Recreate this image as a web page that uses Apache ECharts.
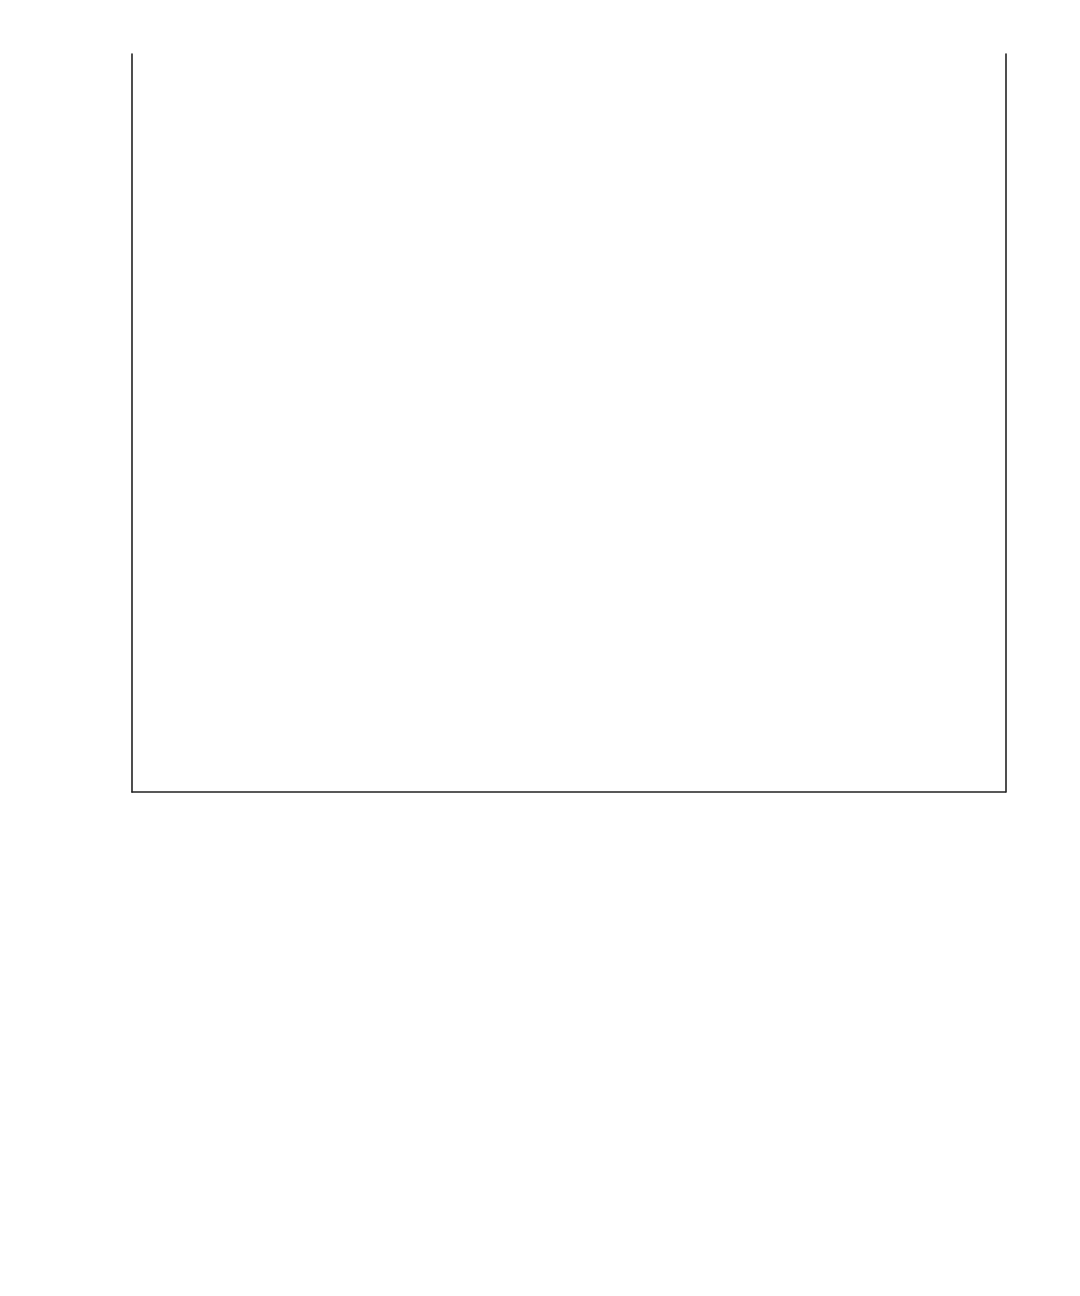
<!DOCTYPE html>
<html>
<head>
<meta charset="utf-8">
<title>Chart</title>
<script src="https://cdn.jsdelivr.net/npm/echarts@6/dist/echarts.min.js"></script>
<style>
  html, body { margin: 0; padding: 0; background: #ffffff; }
  #chart { width: 1080px; height: 1296px; }
</style>
</head>
<body>
<div id="chart"></div>
<script>
// the reference shows an empty plot: only the frame, no marks or labels
const categories = [];
const values = [];
const yRange = [0, 1];

const chart = echarts.init(document.querySelector("#chart"), null, { renderer: "canvas" });

const axisLine = { show: true, lineStyle: { color: "#222222", width: 1.6 } };

chart.setOption({
  animation: false,
  backgroundColor: "#ffffff",
  grid: { left: 132, right: 74.5, top: 54, bottom: 504, containLabel: false },
  xAxis: {
    type: "category",
    data: categories,
    axisLine: axisLine,
    axisTick: { show: false },
    axisLabel: { show: false },
    splitLine: { show: false },
  },
  yAxis: [
    {
      type: "value",
      min: yRange[0],
      max: yRange[1],
      position: "left",
      axisLine: axisLine,
      axisTick: { show: false },
      axisLabel: { show: false },
      splitLine: { show: false },
    },
    {
      type: "value",
      min: yRange[0],
      max: yRange[1],
      position: "right",
      axisLine: axisLine,
      axisTick: { show: false },
      axisLabel: { show: false },
      splitLine: { show: false },
    },
  ],
  series: [
    {
      type: "bar",
      data: values,
    },
  ],
});
</script>
</body>
</html>
